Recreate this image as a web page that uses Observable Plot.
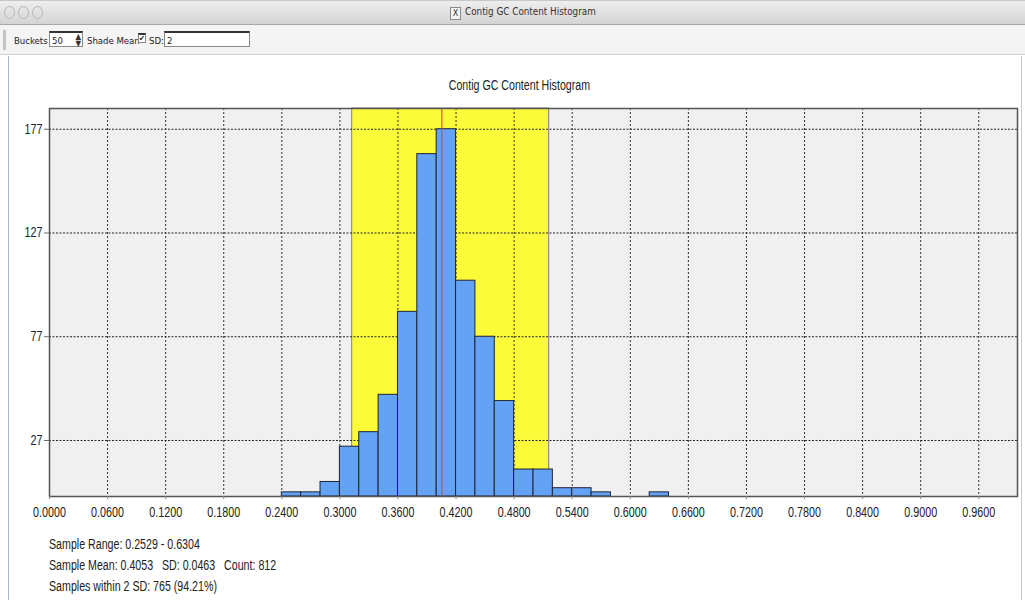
<!DOCTYPE html>
<html><head><meta charset="utf-8">
<script src="https://cdn.jsdelivr.net/npm/d3@7"></script>
<script src="https://cdn.jsdelivr.net/npm/@observablehq/plot@0.6"></script>
<style>
html,body{margin:0;padding:0}
body{background:#fff;width:1025px;height:600px;overflow:hidden;position:relative;font-family:"Liberation Sans",Arial,sans-serif;color:#222}
#titlebar{position:absolute;left:0;top:0;width:1025px;height:25px;background:linear-gradient(#eeeeee,#d4d4d4);border-top:1px solid #c8c8c8;border-bottom:1px solid #a8a8a8;box-sizing:border-box}
.dot{position:absolute;top:5px;width:11px;height:13px;border:1.5px solid #b9b9b9;border-radius:50%;box-sizing:border-box}
#wintitle{position:absolute;top:5px;left:450px;font-family:"DejaVu Sans Condensed","Liberation Sans",sans-serif;font-size:9.8px;color:#333;white-space:nowrap}
#wintitle .x{display:inline-block;width:9px;height:11px;border:1px solid #888;font-size:9px;line-height:10px;text-align:center;margin-right:4px;background:#f4f4f4;vertical-align:-1px}
#toolbar{position:absolute;left:0;top:25px;width:1025px;height:30px;background:#f4f4f4;border-bottom:1px solid #d0d0d0;box-sizing:border-box;font-family:"DejaVu Sans Condensed","Liberation Sans",sans-serif;font-size:9.5px;color:#222}
#toolbar .t{position:absolute;top:10px;white-space:nowrap}
#toolbar .box{position:absolute;top:6px;height:16px;background:#fff;border:1px solid #888;border-top:2px solid #333;box-sizing:border-box;font-size:9.5px;padding:2px 0 0 2px}
#handle{position:absolute;left:3px;top:5px;width:3px;height:20px;background:#c4c4c4}
#leftborder{position:absolute;left:8px;top:56px;width:1px;height:544px;background:#a9b7c6}
#rightborder{position:absolute;left:1021px;top:56px;width:1px;height:544px;background:#c8c8c8}
#charttitle{position:absolute;left:7px;width:1025px;top:77px;text-align:center;font-size:14px;color:#222;transform:scaleX(0.76);transform-origin:512px 0}
#chart{position:absolute;left:0;top:60px}
#stats{position:absolute;left:49px;top:534px;font-size:14px;line-height:21px;color:#222;white-space:pre;transform:scaleX(0.76);transform-origin:0 0}
</style>
</head><body>
<div id="titlebar">
  <div class="dot" style="left:4px"></div>
  <div class="dot" style="left:18px"></div>
  <div class="dot" style="left:32px"></div>
  <div id="wintitle"><span class="x">X</span>Contig GC Content Histogram</div>
</div>
<div id="toolbar">
  <div id="handle"></div>
  <div class="t" style="left:14px">Buckets</div>
  <div class="box" style="left:49px;width:34px">50<span style="position:absolute;right:1px;top:0px;font-size:8px;line-height:7px;color:#333">▲<br>▼</span></div>
  <div class="t" style="left:87px">Shade Mean</div>
  <div class="box" style="left:138px;width:8px;height:10px;top:8px;font-size:8px;padding:0;line-height:8px">✔</div>
  <div class="t" style="left:149px">SD:</div>
  <div class="box" style="left:164px;width:86px">2</div>
</div>
<div id="leftborder"></div>
<div id="rightborder"></div>
<div id="charttitle">Contig GC Content Histogram</div>
<div id="chart"></div>
<div id="stats"></div>
<script>
// ---- data ----
const bucketCount = 50;
const bucketStarts = [0.24,0.26,0.28,0.30,0.32,0.34,0.36,0.38,0.40,0.42,0.44,0.46,0.48,0.50,0.52,0.54,0.56,0.58,0.60,0.62];
const counts       = [2,   2,   7,   24,  31,  49,  89,  165, 177, 104, 77,  46,  13,  13,  4,   4,   2,   0,   0,   2];
const xTicks = [0,0.06,0.12,0.18,0.24,0.30,0.36,0.42,0.48,0.54,0.60,0.66,0.72,0.78,0.84,0.90,0.96];
const yTicks = [27,77,127,177];
const sampleMin = 0.2529, sampleMax = 0.6304;
const sampleMean = 0.4053, sampleSD = 0.0463, sampleCount = 812;
const sdMultiple = 2, withinCount = 765, withinPct = 94.21;
const shadeLow = 0.3127, shadeHigh = 0.5162;
const yMax = 187;

const bucketWidth = 1 / bucketCount;
const bins = bucketStarts.map((s, i) => ({x1: s, x2: s + bucketWidth, count: counts[i]})).filter(d => d.count > 0);

const chart = Plot.plot({
  width: 1025,
  height: 470,
  marginTop: 48,
  marginBottom: 34,
  marginLeft: 49,
  marginRight: 8,
  x: {domain: [0, 1], label: null},
  y: {domain: [0, yMax], label: null},
  style: {fontFamily: '"Liberation Sans",Arial,sans-serif', fontSize: "14px", color: "#222", background: "transparent", overflow: "visible"},
  marks: [
    Plot.frame({fill: "#f0f0f0", stroke: null}),
    Plot.rect([{lo: shadeLow, hi: shadeHigh}], {x1: "lo", x2: "hi", y1: 0, y2: yMax, fill: "#fbfb3a", stroke: "#808080", strokeWidth: 1}),
    Plot.gridX(xTicks, {stroke: "#333", strokeOpacity: 1, strokeDasharray: "2,2"}),
    Plot.gridY(yTicks, {stroke: "#222", strokeOpacity: 1, strokeDasharray: "2,1.5"}),
    Plot.rect(bins, {x1: "x1", x2: "x2", y1: 0, y2: "count", fill: "#64a2f6", stroke: "#1e2433", strokeWidth: 1}),
    Plot.ruleX([sampleMean], {stroke: "#e03a3a", strokeWidth: 1}),
    Plot.frame({stroke: "#555", strokeWidth: 1.5}),
    Plot.axisX(xTicks, {tickFormat: d3.format(".4f"), tickSize: 3, tickPadding: 8, stroke: "#888"}),
    Plot.axisY(yTicks, {tickSize: 5, tickPadding: 2, stroke: "#666"})
  ]
});
// narrow the tick label glyphs around their anchor points (condensed look)
chart.querySelectorAll("text").forEach(t => {
  const tr = t.getAttribute("transform") || "";
  t.setAttribute("transform", tr + " scale(0.77,1)");
});
document.getElementById("chart").appendChild(chart);

const f4 = d3.format(".4f");
document.getElementById("stats").textContent =
  `Sample Range: ${f4(sampleMin)} - ${f4(sampleMax)}\n` +
  `Sample Mean: ${f4(sampleMean)}   SD: ${f4(sampleSD)}   Count: ${sampleCount}\n` +
  `Samples within ${sdMultiple} SD: ${withinCount} (${withinPct.toFixed(2)}%)`;
</script>
</body></html>
